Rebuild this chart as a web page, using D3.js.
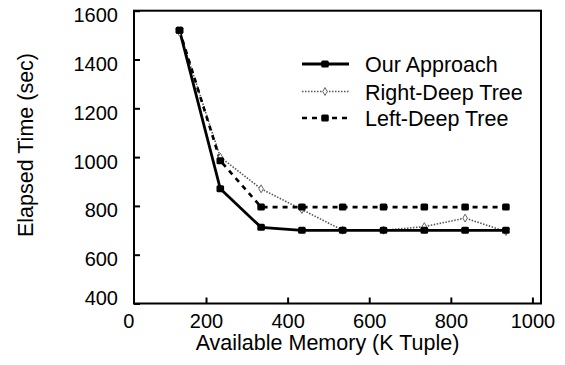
<!DOCTYPE html>
<html>
<head>
<meta charset="utf-8">
<script src="https://cdn.jsdelivr.net/npm/d3@7"></script>
<style>
  html, body { margin: 0; padding: 0; background: white; }
  svg { display: block; font-family: "Liberation Sans", Arial, sans-serif; }
</style>
</head>
<body>
<div id="chart"></div>
<script>
// values
const memory = [135, 235, 335, 435, 535, 635, 735, 835, 935];
const ourApproach = [1520, 870, 712, 700, 700, 700, 700, 700, 700];
const rightDeep = [1512, 1000, 870, 785, 700, 700, 715, 750, 695];
const leftDeep = [1520, 985, 795, 795, 795, 795, 795, 795, 795];
const seriesNames = ["Our Approach", "Right-Deep Tree", "Left-Deep Tree"];
const xTicks = [0, 200, 400, 600, 800, 1000];
const yTicks = [400, 600, 800, 1000, 1200, 1400, 1600];

let w = 565;
let h = 365;

let svg = d3.select("#chart")
  .append("svg")
  .attr("width", w)
  .attr("height", h);

// plot box
let boxL = 134, boxR = 541, boxT = 10.7, boxB = 303.5;

let x = d3.scaleLinear().domain([23.5, 1021]).range([boxL, boxR]);
let y = d3.scaleLinear().domain([400, 1600]).range([boxB, boxT]);

// frame
svg.append("rect")
  .attr("x", boxL)
  .attr("y", boxT)
  .attr("width", boxR - boxL)
  .attr("height", boxB - boxT)
  .attr("fill", "none")
  .attr("stroke", "black")
  .attr("stroke-width", 2);

// y axis (ticks inward)
let yAxis = d3.axisLeft(y).tickValues(yTicks).tickFormat(d3.format("d")).tickSize(-6).tickPadding(16);
let yG = svg.append("g")
  .attr("transform", `translate(${boxL},0)`)
  .call(yAxis);
yG.select(".domain").remove();
yG.selectAll(".tick line").attr("stroke", "black").attr("stroke-width", 2);
yG.selectAll(".tick text")
  .attr("font-size", 20)
  .attr("font-family", "Liberation Sans, Arial, sans-serif")
  .attr("fill", "black")
  .attr("dy", d => d == 400 ? "0.05em" : "0.55em");

// x axis (ticks inward)
let xAxis = d3.axisBottom(x).tickValues(xTicks).tickFormat(d3.format("d")).tickSize(-6).tickPadding(10);
let xG = svg.append("g")
  .attr("transform", `translate(0,${boxB})`)
  .call(xAxis);
xG.select(".domain").remove();
xG.selectAll(".tick line")
  .attr("stroke", "black")
  .attr("stroke-width", 2)
  .attr("display", d => x(d) < boxL ? "none" : null);
xG.selectAll(".tick text")
  .attr("font-size", 20)
  .attr("font-family", "Liberation Sans, Arial, sans-serif")
  .attr("fill", "black")
  .attr("dx", d => d == 0 ? 4 : 0);

// axis titles
svg.append("text")
  .attr("x", (boxL + boxR) / 2 - 10)
  .attr("y", 350)
  .attr("text-anchor", "middle")
  .attr("font-size", 21.5)
  .attr("fill", "black")
  .text("Available Memory (K Tuple)");

svg.append("text")
  .attr("transform", "translate(33,145) rotate(-90)")
  .attr("text-anchor", "middle")
  .attr("font-size", 21.5)
  .attr("fill", "black")
  .text("Elapsed Time (sec)");

// lines
let line = d3.line().x(d => x(d[0])).y(d => y(d[1]));
let zip = vals => memory.map((m, i) => [m, vals[i]]);

let styles = [
  { data: rightDeep, stroke: "#555", width: 1.6, dash: "1.5,1.5", marker: "diamond" },
  { data: leftDeep, stroke: "black", width: 2.6, dash: "5,5", marker: "square" },
  { data: ourApproach, stroke: "black", width: 2.8, dash: null, marker: "square" }
];

styles.forEach(s => {
  svg.append("path")
    .datum(zip(s.data))
    .attr("d", line)
    .attr("fill", "none")
    .attr("stroke", s.stroke)
    .attr("stroke-width", s.width)
    .attr("stroke-dasharray", s.dash);
});

function drawMarkers(g, pts, kind) {
  if (kind == "square") {
    g.selectAll("rect.m")
      .data(pts)
      .join("rect")
      .attr("class", "m")
      .attr("x", d => d[0] - 3.8)
      .attr("y", d => d[1] - 3.5)
      .attr("width", 7.6)
      .attr("height", 7)
      .attr("rx", 1.5)
      .attr("fill", "black");
  } else {
    g.selectAll("path.m")
      .data(pts)
      .join("path")
      .attr("class", "m")
      .attr("d", d3.symbol(d3.symbolDiamond, 18))
      .attr("transform", d => `translate(${d[0]},${d[1]})`)
      .attr("fill", "white")
      .attr("stroke", "#666")
      .attr("stroke-width", 1);
  }
}

styles.forEach(s => {
  let g = svg.append("g");
  drawMarkers(g, zip(s.data).map(d => [x(d[0]), y(d[1])]), s.marker);
});

// legend
let legendOrder = [styles[2], styles[0], styles[1]];
let legendY = [64, 91.5, 118];
let legend = svg.append("g")
  .selectAll("g")
  .data(legendOrder)
  .join("g")
  .attr("transform", (d, i) => `translate(0,${legendY[i]})`);

legend.append("line")
  .attr("x1", 302)
  .attr("x2", 349)
  .attr("y1", 0)
  .attr("y2", 0)
  .attr("stroke", d => d.stroke)
  .attr("stroke-width", d => d.width)
  .attr("stroke-dasharray", d => d.dash);

legend.each(function (d) {
  drawMarkers(d3.select(this), [[325, 0]], d.marker);
});

legend.append("text")
  .attr("x", 365)
  .attr("y", 8)
  .attr("font-size", 21.5)
  .attr("fill", "black")
  .text((d, i) => seriesNames[i]);
</script>
</body>
</html>
